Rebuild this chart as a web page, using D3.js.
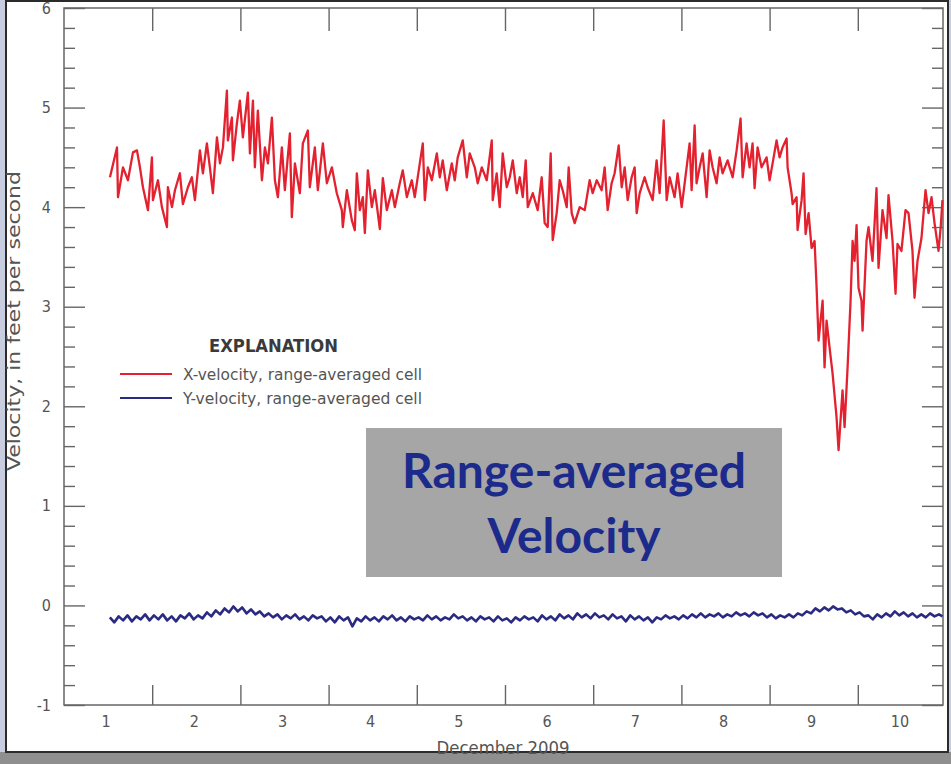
<!DOCTYPE html>
<html>
<head>
<meta charset="utf-8">
<script src="https://cdn.jsdelivr.net/npm/d3@7/dist/d3.min.js"></script>
<style>
  body { margin: 0; background: #c9cde0; }
  svg { display: block; }
  .axis path { display: none; }
  .axis line { stroke: #666; stroke-width: 1.4; }
  .axis text { fill: #555; font-family: "DejaVu Sans Condensed", "Liberation Sans", sans-serif; font-size: 16px; }
  .lbl { fill: #555; font-family: "DejaVu Sans Condensed", "Liberation Sans", sans-serif; }
</style>
</head>
<body>
<svg id="chart" width="951" height="764"></svg>
<script>
// day of December 2009 (1.0 = Dec 1, 00:00) and velocity, ft/s
var xVelocity = [
  [1.521,4.30],[1.601,4.60],[1.612,4.10],[1.669,4.40],[1.725,4.27],[1.782,4.55],[1.827,4.57],[1.861,4.40],
  [1.895,4.20],[1.952,3.97],[1.997,4.50],[2.008,4.07],[2.065,4.27],[2.110,4.00],[2.167,3.80],[2.178,4.20],
  [2.224,4.00],[2.258,4.17],[2.314,4.34],[2.348,4.03],[2.405,4.20],[2.450,4.30],[2.484,4.07],[2.518,4.37],
  [2.541,4.57],[2.575,4.34],[2.620,4.64],[2.654,4.40],[2.688,4.14],[2.734,4.70],[2.768,4.44],[2.802,4.60],
  [2.847,5.17],[2.858,4.67],[2.904,4.90],[2.915,4.47],[2.960,4.84],[2.994,5.07],[3.028,4.70],[3.085,5.15],
  [3.108,4.54],[3.142,5.07],[3.164,4.40],[3.198,4.97],[3.244,4.27],[3.278,4.60],[3.312,4.44],[3.357,4.90],
  [3.391,4.27],[3.425,4.10],[3.470,4.60],[3.504,4.17],[3.561,4.74],[3.583,3.90],[3.618,4.44],[3.674,4.14],
  [3.708,4.64],[3.765,4.77],[3.787,4.20],[3.844,4.60],[3.878,4.17],[3.935,4.64],[3.980,4.24],[4.037,4.40],
  [4.093,4.14],[4.150,3.97],[4.161,3.80],[4.207,4.17],[4.263,3.87],[4.297,3.77],[4.320,4.34],[4.354,3.97],
  [4.388,4.10],[4.411,3.74],[4.445,4.37],[4.490,4.00],[4.524,4.17],[4.558,3.94],[4.581,3.78],[4.615,4.29],
  [4.660,3.97],[4.717,4.17],[4.751,4.00],[4.807,4.24],[4.841,4.37],[4.887,4.10],[4.943,4.27],[4.977,4.10],
  [5.034,4.44],[5.068,4.64],[5.091,4.07],[5.125,4.40],[5.170,4.27],[5.227,4.54],[5.261,4.30],[5.294,4.47],
  [5.340,4.17],[5.397,4.44],[5.430,4.27],[5.464,4.50],[5.521,4.67],[5.567,4.30],[5.600,4.54],[5.657,4.40],
  [5.691,4.24],[5.737,4.40],[5.793,4.27],[5.850,4.67],[5.861,4.07],[5.906,4.34],[5.940,4.00],[5.974,4.54],
  [6.020,4.20],[6.054,4.30],[6.088,4.47],[6.133,4.14],[6.167,4.30],[6.201,4.10],[6.235,4.47],[6.258,4.00],
  [6.315,4.14],[6.371,3.97],[6.416,4.30],[6.450,3.84],[6.484,3.80],[6.518,4.54],[6.541,3.67],[6.586,3.94],
  [6.620,4.27],[6.654,4.17],[6.700,4.00],[6.722,4.40],[6.756,3.94],[6.790,3.84],[6.847,4.00],[6.904,3.97],
  [6.960,4.27],[6.994,4.14],[7.040,4.27],[7.096,4.17],[7.130,4.40],[7.164,3.97],[7.209,4.24],[7.243,4.34],
  [7.289,4.62],[7.323,4.20],[7.357,4.40],[7.391,4.07],[7.436,4.30],[7.470,4.40],[7.493,3.94],[7.527,4.14],
  [7.583,4.30],[7.617,4.20],[7.674,4.07],[7.719,4.47],[7.753,4.14],[7.799,4.87],[7.833,4.07],[7.867,4.30],
  [7.923,4.10],[7.957,4.34],[8.003,4.00],[8.037,4.24],[8.093,4.64],[8.116,4.17],[8.150,4.82],[8.172,4.24],
  [8.207,4.40],[8.241,4.54],[8.286,4.10],[8.320,4.57],[8.354,4.40],[8.399,4.24],[8.433,4.50],[8.467,4.34],
  [8.524,4.47],[8.547,4.40],[8.581,4.30],[8.626,4.57],[8.671,4.89],[8.694,4.30],[8.739,4.64],[8.773,4.40],
  [8.807,4.64],[8.830,4.19],[8.864,4.60],[8.909,4.40],[8.966,4.50],[9.000,4.27],[9.034,4.44],[9.079,4.67],
  [9.113,4.50],[9.147,4.60],[9.193,4.69],[9.204,4.40],[9.249,4.14],[9.261,4.03],[9.306,4.10],[9.317,3.77],
  [9.363,4.07],[9.385,4.34],[9.408,3.73],[9.442,3.94],[9.476,3.59],[9.510,3.66],[9.533,3.19],[9.555,2.66],
  [9.601,3.06],[9.623,2.39],[9.646,2.86],[9.680,2.59],[9.714,2.33],[9.759,1.89],[9.782,1.56],[9.827,2.16],
  [9.850,1.79],[9.884,2.39],[9.918,3.06],[9.941,3.66],[9.963,3.46],[9.986,3.82],[10.008,3.19],[10.042,3.06],
  [10.054,2.76],[10.099,3.66],[10.122,3.80],[10.167,3.46],[10.212,4.19],[10.235,3.39],[10.280,3.97],[10.326,3.69],
  [10.348,4.12],[10.394,3.66],[10.428,3.13],[10.450,3.63],[10.495,3.56],[10.541,3.97],[10.575,3.94],[10.620,3.56],
  [10.643,3.09],[10.677,3.46],[10.722,3.69],[10.768,4.17],[10.802,3.94],[10.836,4.10],[10.870,3.84],[10.915,3.56],
  [10.940,3.80],[10.960,4.07]
];

var yVelocity = [
  [1.52,-0.12],[1.57,-0.17],[1.62,-0.11],[1.67,-0.15],[1.72,-0.10],[1.77,-0.16],[1.82,-0.11],[1.87,-0.14],
  [1.92,-0.09],[1.97,-0.15],[2.02,-0.10],[2.07,-0.14],[2.12,-0.09],[2.17,-0.15],[2.22,-0.11],[2.27,-0.16],
  [2.32,-0.10],[2.37,-0.13],[2.42,-0.08],[2.47,-0.14],[2.52,-0.10],[2.57,-0.13],[2.62,-0.07],[2.67,-0.11],
  [2.72,-0.05],[2.77,-0.09],[2.82,-0.03],[2.87,-0.07],[2.92,-0.01],[2.97,-0.06],[3.02,-0.02],[3.07,-0.08],
  [3.12,-0.04],[3.17,-0.09],[3.22,-0.06],[3.27,-0.11],[3.32,-0.08],[3.37,-0.12],[3.42,-0.09],[3.47,-0.14],
  [3.52,-0.10],[3.57,-0.13],[3.62,-0.09],[3.67,-0.14],[3.72,-0.11],[3.77,-0.15],[3.82,-0.10],[3.87,-0.13],
  [3.92,-0.11],[3.97,-0.16],[4.02,-0.12],[4.07,-0.17],[4.12,-0.11],[4.17,-0.15],[4.22,-0.12],[4.27,-0.21],
  [4.32,-0.13],[4.37,-0.16],[4.42,-0.11],[4.47,-0.15],[4.52,-0.12],[4.57,-0.16],[4.62,-0.11],[4.67,-0.14],
  [4.72,-0.10],[4.77,-0.15],[4.82,-0.12],[4.87,-0.16],[4.92,-0.11],[4.97,-0.14],[5.02,-0.12],[5.07,-0.15],
  [5.12,-0.10],[5.17,-0.14],[5.22,-0.11],[5.27,-0.15],[5.32,-0.12],[5.37,-0.14],[5.42,-0.09],[5.47,-0.13],
  [5.52,-0.11],[5.57,-0.15],[5.62,-0.12],[5.67,-0.16],[5.72,-0.11],[5.77,-0.14],[5.82,-0.12],[5.87,-0.16],
  [5.92,-0.11],[5.97,-0.15],[6.02,-0.13],[6.07,-0.17],[6.12,-0.12],[6.17,-0.15],[6.22,-0.11],[6.27,-0.14],
  [6.32,-0.12],[6.37,-0.16],[6.42,-0.10],[6.47,-0.14],[6.52,-0.11],[6.57,-0.15],[6.62,-0.09],[6.67,-0.13],
  [6.72,-0.10],[6.77,-0.14],[6.82,-0.08],[6.87,-0.12],[6.92,-0.09],[6.97,-0.13],[7.02,-0.08],[7.07,-0.12],
  [7.12,-0.10],[7.17,-0.14],[7.22,-0.09],[7.27,-0.13],[7.32,-0.11],[7.37,-0.16],[7.42,-0.10],[7.47,-0.14],
  [7.52,-0.11],[7.57,-0.15],[7.62,-0.12],[7.67,-0.17],[7.72,-0.12],[7.77,-0.14],[7.82,-0.10],[7.87,-0.13],
  [7.92,-0.11],[7.97,-0.14],[8.02,-0.10],[8.07,-0.13],[8.12,-0.09],[8.17,-0.12],[8.22,-0.08],[8.27,-0.12],
  [8.32,-0.09],[8.37,-0.11],[8.42,-0.08],[8.47,-0.12],[8.52,-0.09],[8.57,-0.11],[8.62,-0.07],[8.67,-0.10],
  [8.72,-0.08],[8.77,-0.11],[8.82,-0.07],[8.87,-0.10],[8.92,-0.08],[8.97,-0.12],[9.02,-0.09],[9.07,-0.13],
  [9.12,-0.10],[9.17,-0.12],[9.22,-0.09],[9.27,-0.12],[9.32,-0.08],[9.37,-0.10],[9.42,-0.06],[9.47,-0.08],
  [9.52,-0.03],[9.57,-0.06],[9.62,-0.02],[9.67,-0.05],[9.72,-0.01],[9.77,-0.04],[9.82,-0.03],[9.87,-0.07],
  [9.92,-0.05],[9.97,-0.09],[10.02,-0.07],[10.07,-0.11],[10.12,-0.10],[10.17,-0.14],[10.22,-0.09],[10.27,-0.12],
  [10.32,-0.08],[10.37,-0.11],[10.42,-0.06],[10.47,-0.10],[10.52,-0.07],[10.57,-0.11],[10.62,-0.08],[10.67,-0.12],
  [10.72,-0.09],[10.77,-0.12],[10.82,-0.08],[10.87,-0.11],[10.92,-0.09],[10.96,-0.11]
];

var dayLabels = ["1", "2", "3", "4", "5", "6", "7", "8", "9", "10"];
var velTicks = [-1, 0, 1, 2, 3, 4, 5, 6];
var seriesNames = ["X-velocity, range-averaged cell", "Y-velocity, range-averaged cell"];
var seriesColors = ["#e3212f", "#2b2a82"];

var svg = d3.select("#chart");
var plotL = 64, plotR = 943, plotT = 8, plotB = 705;

var x = d3.scaleLinear().domain([1, 10.966]).range([plotL, plotR]);
var y = d3.scaleLinear().domain([-1, 6]).range([plotB, plotT]);

// frame + page
svg.append("rect").attr("x", 0).attr("y", 752).attr("width", 951).attr("height", 12).attr("fill", "#8f8f8f");
svg.append("rect").attr("x", 6).attr("y", 1).attr("width", 942).attr("height", 751)
    .attr("fill", "#fff").attr("stroke", "#2b2b2b").attr("stroke-width", 2);

var dayBounds = d3.range(2, 11);
var minorTicks = d3.range(-10, 61).map(function (d) { return d / 10; })
    .filter(function (d) { return Math.abs(d * 5 - Math.round(d * 5)) < 1e-6 && Math.abs(d - Math.round(d)) > 1e-6; });

svg.append("rect").attr("x", plotL).attr("y", plotT).attr("width", plotR - plotL).attr("height", plotB - plotT)
    .attr("fill", "none").attr("stroke", "#666").attr("stroke-width", 1.5);

svg.append("g").attr("class", "axis").attr("transform", "translate(" + plotL + ",0)")
    .call(d3.axisLeft(y).tickValues(velTicks).tickSize(-21).tickPadding(13).tickFormat(function (d) { return String(d); }));
svg.append("g").attr("class", "axis").attr("transform", "translate(" + plotL + ",0)")
    .call(d3.axisLeft(y).tickValues(minorTicks).tickSize(-11).tickFormat(""));
svg.append("g").attr("class", "axis").attr("transform", "translate(" + plotR + ",0)")
    .call(d3.axisRight(y).tickValues(velTicks).tickSize(-21).tickFormat(""));
svg.append("g").attr("class", "axis").attr("transform", "translate(" + plotR + ",0)")
    .call(d3.axisRight(y).tickValues(minorTicks).tickSize(-11).tickFormat(""));
svg.append("g").attr("class", "axis").attr("transform", "translate(0," + plotB + ")")
    .call(d3.axisBottom(x).tickValues(dayBounds).tickSize(-20).tickFormat(""));
svg.append("g").attr("class", "axis").attr("transform", "translate(0," + plotT + ")")
    .call(d3.axisTop(x).tickValues(dayBounds).tickSize(-23).tickFormat(""));

svg.append("g").selectAll("text").data(dayLabels).enter().append("text")
    .attr("class", "lbl")
    .attr("x", function (d, i) { return x(i + 1.5) - 2; })
    .attr("y", 727)
    .attr("text-anchor", "middle")
    .style("font-size", "16px")
    .text(function (d) { return d; });

svg.append("text").attr("class", "lbl")
    .attr("x", 503).attr("y", 754).attr("text-anchor", "middle")
    .style("font-size", "18px")
    .attr("textLength", 133).attr("lengthAdjust", "spacingAndGlyphs")
    .text("December 2009");

svg.append("text").attr("class", "lbl")
    .attr("transform", "translate(20,321) rotate(-90)")
    .attr("text-anchor", "middle")
    .style("font-size", "17px")
    .attr("textLength", 300).attr("lengthAdjust", "spacingAndGlyphs")
    .text("Velocity, in feet per second");

// series
var line = d3.line().x(function (d) { return x(d[0]); }).y(function (d) { return y(d[1]); });

svg.append("path").datum(yVelocity).attr("d", line)
    .attr("fill", "none").attr("stroke", seriesColors[1]).attr("stroke-width", 2.6).attr("stroke-linejoin", "round");
svg.append("path").datum(xVelocity).attr("d", line)
    .attr("fill", "none").attr("stroke", seriesColors[0]).attr("stroke-width", 2.3).attr("stroke-linejoin", "round");

// explanation
svg.append("text").attr("class", "lbl")
    .attr("x", 209).attr("y", 352)
    .style("font-size", "18px").style("font-weight", "bold").style("fill", "#3a3a3a")
    .attr("textLength", 129).attr("lengthAdjust", "spacingAndGlyphs")
    .text("EXPLANATION");

var leg = svg.append("g").selectAll("g").data(seriesNames).enter().append("g")
    .attr("transform", function (d, i) { return "translate(120," + (374 + i * 24) + ")"; });
leg.append("line").attr("x1", 0).attr("x2", 52)
    .attr("stroke", function (d, i) { return seriesColors[i]; }).attr("stroke-width", 2);
leg.append("text").attr("class", "lbl")
    .attr("x", 63).attr("y", 5.5)
    .style("font-size", "16px")
    .attr("textLength", 239).attr("lengthAdjust", "spacingAndGlyphs")
    .text(function (d) { return d; });

// overlay box
svg.append("rect").attr("x", 366).attr("y", 428).attr("width", 416).attr("height", 149).attr("fill", "#a6a6a6");
var boxText = svg.append("text")
    .attr("text-anchor", "middle")
    .style("font-family", "Lato, 'Open Sans', sans-serif")
    .style("font-weight", "bold")
    .style("font-size", "48px")
    .style("fill", "#1c2a8c");
boxText.append("tspan").attr("x", 574).attr("y", 488).text("Range-averaged");
boxText.append("tspan").attr("x", 574).attr("y", 553).text("Velocity");
</script>
</body>
</html>
